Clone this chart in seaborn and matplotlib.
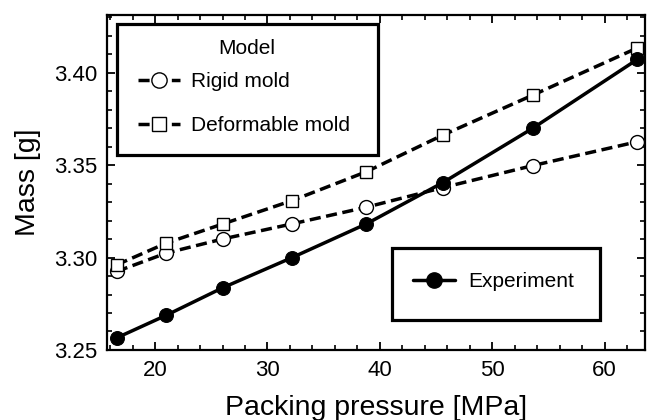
import matplotlib
matplotlib.use("Agg")
import matplotlib.pyplot as plt
import pandas as pd
import seaborn as sns
from matplotlib.lines import Line2D
from matplotlib.patches import Rectangle
from matplotlib.ticker import MultipleLocator

# =============================
# Data
# =============================
pressure = [16.6, 21.0, 26.0, 32.2, 38.8, 45.6, 53.6, 62.9]
mass_experiment = [3.2566, 3.2688, 3.2836, 3.3000, 3.3182, 3.3405, 3.3699, 3.4071]
mass_rigid = [3.2925, 3.3024, 3.3100, 3.3182, 3.3272, 3.3378, 3.3497, 3.3626]
mass_deformable = [3.2961, 3.3078, 3.3181, 3.3308, 3.3464, 3.3662, 3.3878, 3.4133]

x_ticks = [20, 30, 40, 50, 60]
y_ticks = [3.25, 3.30, 3.35, 3.40]

# =============================
# Style
# =============================
sns.set_style("ticks")
plt.rcParams.update({
    "font.family": ["Liberation Sans", "DejaVu Sans"],
    "text.color": "black",
    "axes.labelcolor": "black",
    "axes.edgecolor": "black",
    "xtick.color": "black",
    "ytick.color": "black",
    "axes.linewidth": 1.6,
    "xtick.direction": "in",
    "ytick.direction": "in",
    "xtick.top": True,
    "ytick.right": True,
    "xtick.major.size": 6,
    "ytick.major.size": 6,
    "xtick.minor.size": 3.5,
    "ytick.minor.size": 3.5,
    "xtick.major.width": 1.3,
    "ytick.major.width": 1.3,
    "xtick.minor.width": 1.2,
    "ytick.minor.width": 1.2,
})

df = pd.DataFrame({
    "pressure": pressure,
    "Experiment": mass_experiment,
    "Rigid mold": mass_rigid,
    "Deformable mold": mass_deformable,
})

fig = plt.figure(figsize=(6.51, 4.2), dpi=100)
ax = fig.add_axes([0.164, 0.1667, 0.827, 0.797])

LW = 2.5
MS = 10
MS_SQ = 9.2
dash = (3.2, 1.6)

sns.lineplot(data=df, x="pressure", y="Rigid mold", ax=ax, color="black",
             linewidth=LW, marker="o", markersize=MS, markerfacecolor="white",
             markeredgecolor="black", markeredgewidth=1.0, dashes=dash, zorder=3)
sns.lineplot(data=df, x="pressure", y="Deformable mold", ax=ax, color="black",
             linewidth=LW, marker="s", markersize=MS_SQ, markerfacecolor="white",
             markeredgecolor="black", markeredgewidth=1.0, dashes=dash, zorder=3)
sns.lineplot(data=df, x="pressure", y="Experiment", ax=ax, color="black",
             linewidth=LW, marker="o", markersize=MS, markerfacecolor="black",
             markeredgecolor="black", zorder=4)

ax.set_xlim(15.7, 63.6)
ax.set_ylim(3.25, 3.431)
ax.set_xticks(x_ticks)
ax.set_yticks(y_ticks)
ax.set_yticklabels([f"{v:.2f}" for v in y_ticks])
ax.xaxis.set_minor_locator(MultipleLocator(2))
ax.yaxis.set_minor_locator(MultipleLocator(0.01))
ax.tick_params(labelsize=16, pad=7)
ax.set_xlabel("Packing pressure [MPa]", fontsize=20.5, labelpad=10)
ax.set_ylabel("Mass [g]", fontsize=20.5, labelpad=9)

# =============================
# Legends (frames drawn as boxes so padding can be uneven, like the original)
# =============================
h_rigid = Line2D([], [], color="black", linewidth=LW, dashes=dash, marker="o",
                 markersize=MS + 1, markerfacecolor="white", markeredgewidth=1.0)
h_def = Line2D([], [], color="black", linewidth=LW, dashes=dash, marker="s",
               markersize=MS_SQ + 1, markerfacecolor="white", markeredgewidth=1.0)
h_exp = Line2D([], [], color="black", linewidth=LW, marker="o",
               markersize=MS + 1, markerfacecolor="black")

for (x0, y0, w, h) in [(0.0191, 0.582, 0.4849, 0.391), (0.530, 0.0896, 0.3864, 0.2149)]:
    ax.add_patch(Rectangle((x0, y0), w, h, transform=ax.transAxes, facecolor="white",
                           edgecolor="black", linewidth=2.3, zorder=5, clip_on=False))

ax.text(0.2606, 0.9015, "Model", transform=ax.transAxes, ha="center", va="center",
        fontsize=15, zorder=6)

leg1 = ax.legend([h_rigid, h_def], ["Rigid mold", "Deformable mold"],
                 loc="upper left", bbox_to_anchor=(0.0581, 0.831),
                 fontsize=15, frameon=False, handlelength=2.0, handletextpad=0.55,
                 labelspacing=1.2, borderpad=0, borderaxespad=0)
leg1.set_zorder(6)
ax.add_artist(leg1)

leg2 = ax.legend([h_exp], ["Experiment"], loc="center left",
                 bbox_to_anchor=(0.569, 0.205), fontsize=15, frameon=False,
                 handlelength=2.0, handletextpad=0.65, borderpad=0, borderaxespad=0)
leg2.set_zorder(6)

fig.savefig("out.png", dpi=100)
